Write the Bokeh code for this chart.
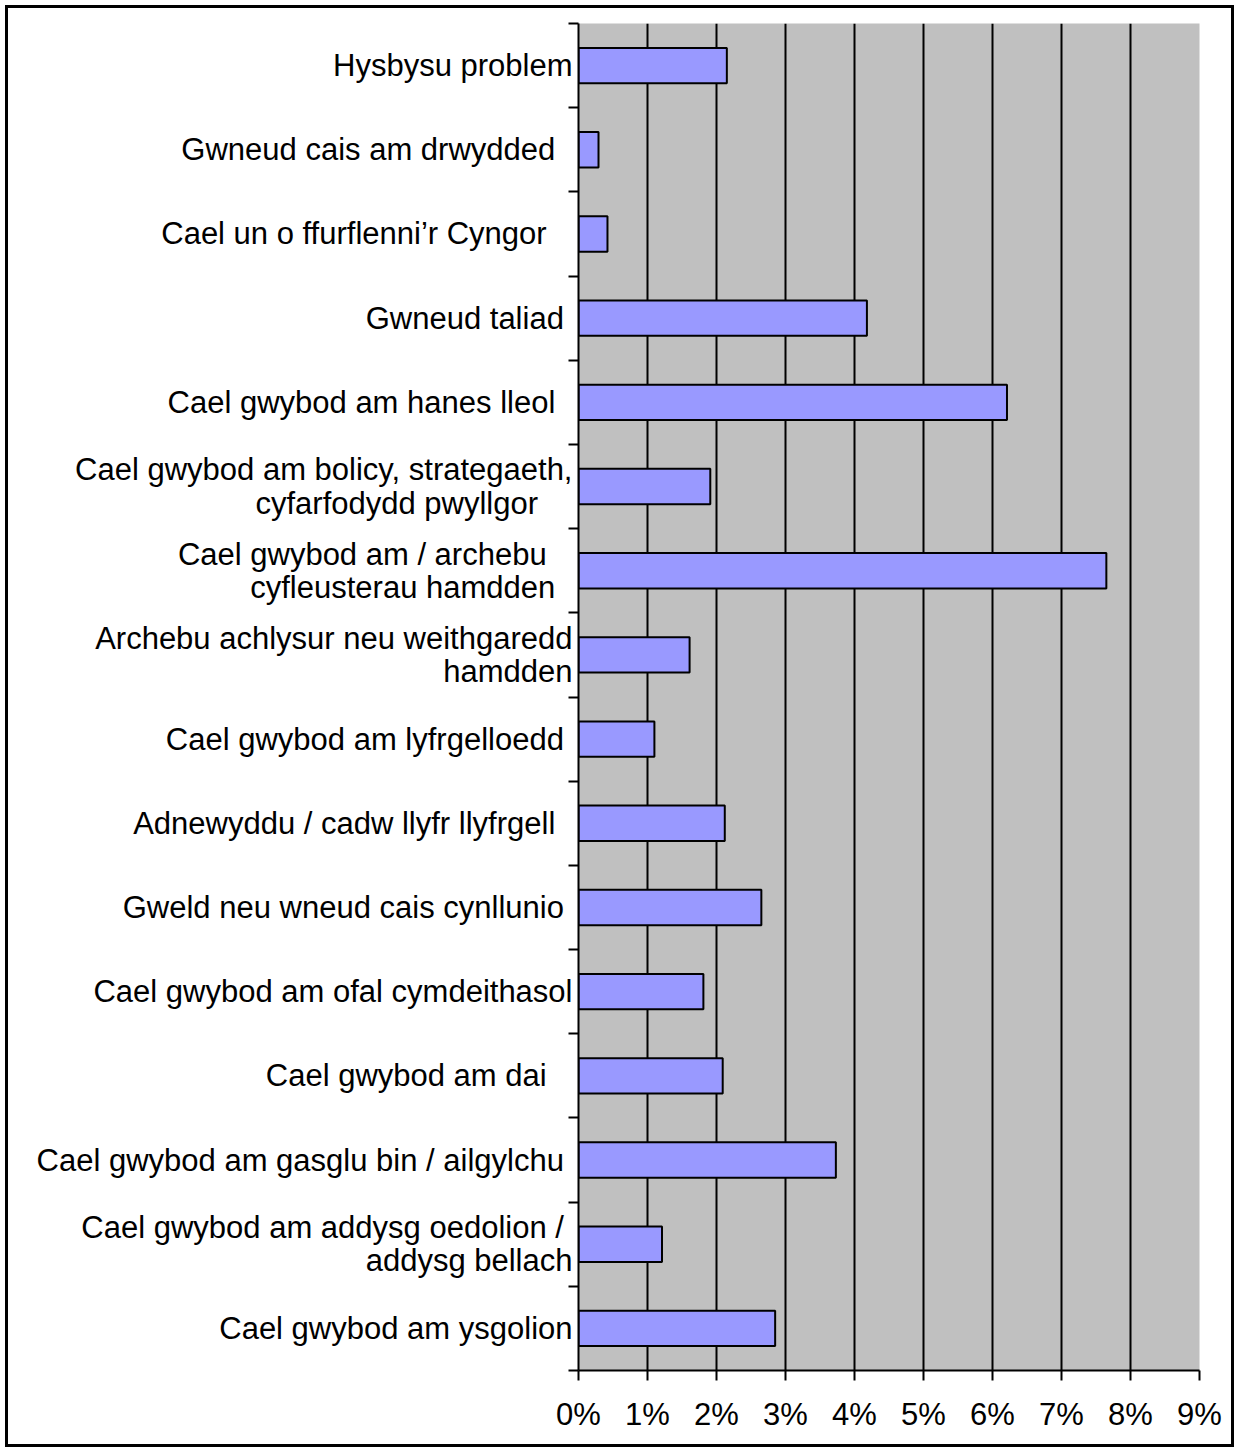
from bokeh.plotting import figure
from bokeh.models import Range1d, FixedTicker, PrintfTickFormatter, ColumnDataSource
from bokeh.embed import file_html
from bokeh.resources import INLINE

NB = "\u00a0"

categories = [
    "Hysbysu problem",
    "Gwneud cais am drwydded" + NB * 2,
    "Cael un o ffurflenni\u2019r Cyngor" + NB * 3,
    "Gwneud taliad" + NB,
    "Cael gwybod am hanes lleol" + NB * 2,
    "Cael gwybod am bolicy, strategaeth,\ncyfarfodydd pwyllgor" + NB * 4,
    "Cael gwybod am / archebu" + NB * 3 + "\ncyfleusterau hamdden" + NB * 2,
    "Archebu achlysur neu weithgaredd\nhamdden",
    "Cael gwybod am lyfrgelloedd" + NB,
    "Adnewyddu / cadw llyfr llyfrgell" + NB * 2,
    "Gweld neu wneud cais cynllunio" + NB,
    "Cael gwybod am ofal cymdeithasol",
    "Cael gwybod am dai" + NB * 3,
    "Cael gwybod am gasglu bin / ailgylchu" + NB,
    "Cael gwybod am addysg oedolion /" + NB + "\naddysg bellach",
    "Cael gwybod am ysgolion",
]

values = [2.15, 0.29, 0.42, 4.18, 6.21, 1.91, 7.65, 1.61,
          1.10, 2.12, 2.65, 1.81, 2.09, 3.73, 1.21, 2.85]

x_ticks = [0, 1, 2, 3, 4, 5, 6, 7, 8, 9]

n = len(categories)
y_pos = [n - i for i in range(n)]
boundaries = [k + 0.5 for k in range(n + 1)]

source = ColumnDataSource(dict(y=y_pos, value=values, label=categories))

FONT = "Liberation Sans"

p = figure(width=1223, height=1436,
           x_range=Range1d(x_ticks[0], x_ticks[-1]),
           y_range=Range1d(0.5, n + 0.5),
           output_backend="svg", toolbar_location=None,
           min_border_left=570, min_border_right=32,
           min_border_top=15, min_border_bottom=74)

p.background_fill_color = "#C0C0C0"
p.border_fill_color = "white"
p.outline_line_color = None

# grid
p.xgrid.ticker = FixedTicker(ticks=x_ticks)
p.xgrid.grid_line_color = "black"
p.xgrid.grid_line_width = 2
p.ygrid.visible = False

# x axis
xa = p.xaxis[0]
xa.ticker = FixedTicker(ticks=x_ticks)
xa.formatter = PrintfTickFormatter(format="%d%%")
xa.axis_line_color = "black"
xa.axis_line_width = 2
xa.major_tick_line_color = "black"
xa.major_tick_line_width = 2
xa.major_tick_out = 10
xa.major_tick_in = 0
xa.minor_tick_line_color = None
xa.major_label_text_font = FONT
xa.major_label_text_font_size = "31px"
xa.major_label_text_color = "black"
xa.major_label_standoff = 16

# y axis
ya = p.yaxis[0]
ya.ticker = FixedTicker(ticks=y_pos, minor_ticks=boundaries)
ya.major_label_overrides = {y: lab for y, lab in zip(y_pos, categories)}
ya.axis_line_color = "black"
ya.axis_line_width = 2
ya.major_tick_line_color = None
ya.major_tick_out = 0
ya.major_tick_in = 0
ya.minor_tick_line_color = "black"
ya.minor_tick_line_width = 2
ya.minor_tick_out = 10
ya.minor_tick_in = 0
ya.major_label_text_font = FONT
ya.major_label_text_font_size = "31px"
ya.major_label_text_color = "black"
ya.major_label_text_line_height = 0.95
ya.major_label_standoff = -4

p.hbar(y="y", left=0, right="value", height=0.42, source=source,
       fill_color="#9999FF", line_color="black", line_width=2)

html = file_html(p, INLINE)
# outer chart border drawn by the page body around the figure
border_css = ("<style>html, body { overflow: hidden; } "
              "body { margin: 5px !important; border: 3px solid black; "
              "box-sizing: border-box; height: 1442px !important; }</style>")
html = html.replace("</head>", border_css + "</head>", 1)
open("out.html", "w").write(html)
